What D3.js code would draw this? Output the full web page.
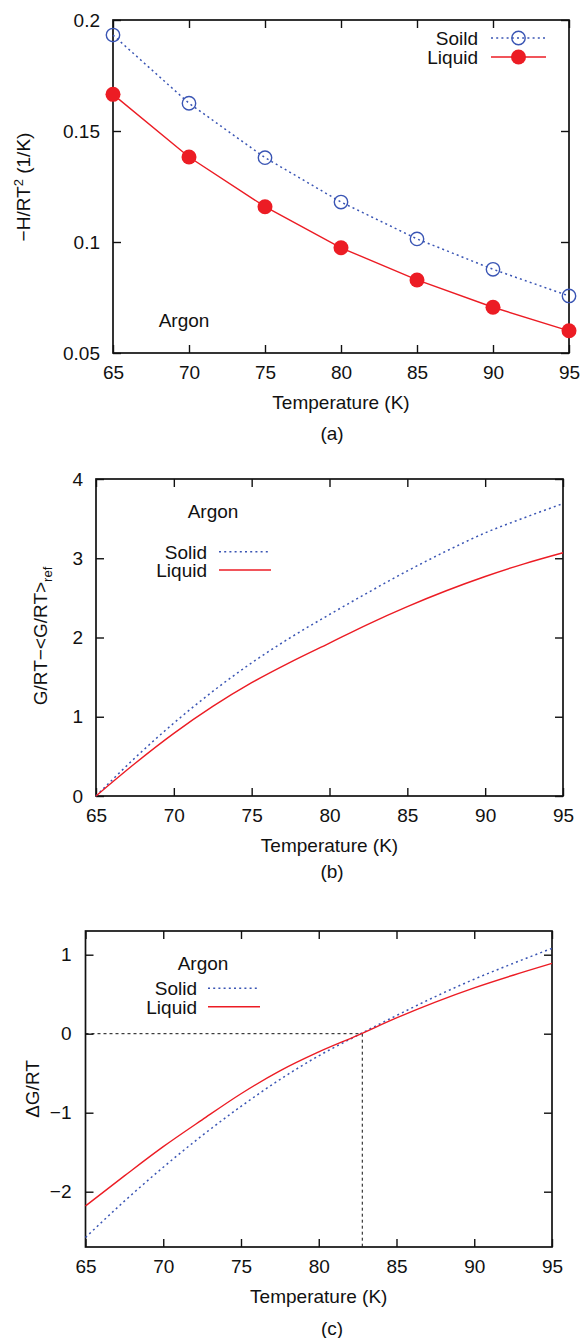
<!DOCTYPE html>
<html>
<head>
<meta charset="utf-8">
<script src="https://cdn.jsdelivr.net/npm/d3@7"></script>
<style>
  html, body { margin: 0; padding: 0; background: #fff; }
  svg text { font-family: "Liberation Sans", Arial, Helvetica, sans-serif; fill: #111; }
</style>
</head>
<body>
<div id="container"></div>
<script>
// ---------- DATA ----------
// (a) enthalpy term at the simulated temperatures
const tempPoints = [65, 70, 75, 80, 85, 90, 95];
const hSolid  = [0.1932, 0.1625, 0.1380, 0.1180, 0.1014, 0.0877, 0.0757];
const hLiquid = [0.1665, 0.1383, 0.1159, 0.0974, 0.0829, 0.0706, 0.0600];

// (b) and (c) curves, read every 2.5 K
const tempCurve = [65, 67.5, 70, 72.5, 75, 77.5, 80, 82.5, 85, 87.5, 90, 92.5, 95];
const gSolid  = [0, 0.48, 0.92, 1.32, 1.68, 2.00, 2.29, 2.57, 2.84, 3.09, 3.32, 3.51, 3.69];
const gLiquid = [0, 0.41, 0.79, 1.13, 1.43, 1.69, 1.93, 2.17, 2.39, 2.59, 2.77, 2.93, 3.07];
const dSolid  = [-2.58, -2.12, -1.69, -1.29, -0.92, -0.58, -0.28, -0.02, 0.23, 0.47, 0.69, 0.89, 1.08];
const dLiquid = [-2.18, -1.80, -1.43, -1.09, -0.76, -0.47, -0.23, -0.02, 0.20, 0.40, 0.58, 0.74, 0.89];
const crossT = 82.8;

const xTicks = [65, 70, 75, 80, 85, 90, 95];
const yTicksA = [0.05, 0.1, 0.15, 0.2];
const yTicksB = [0, 1, 2, 3, 4];
const yTicksC = [-2, -1, 0, 1];

const BLUE = '#3a55b4';
const RED = '#ec1c24';
const DOT = '2,3.2';
const FS = '19px';

// ---------- SVG ----------
const W = 582, H = 1338;
const svg = d3.select('#container').append('svg')
    .attr('width', W)
    .attr('height', H);

function frame({ left, right, top, bottom, yDomain, yTicks, yFmt, pad }) {
    const x = d3.scaleLinear().domain([65, 95]).range([left, right]);
    const y = d3.scaleLinear().domain(yDomain).range([bottom, top]);
    const g = svg.append('g');

    const ax = (sel) => {
        sel.select('.domain').remove();
        sel.selectAll('line').attr('stroke', '#111').attr('stroke-width', 1.4);
        sel.selectAll('text').style('font-size', FS);
    };

    g.append('g').attr('transform', `translate(0,${bottom})`)
        .call(d3.axisBottom(x).tickValues(xTicks).tickSize(-8).tickPadding(pad.x).tickFormat(d3.format('d')))
        .call(ax);
    g.append('g').attr('transform', `translate(0,${top})`)
        .call(d3.axisTop(x).tickValues(xTicks).tickSize(-8).tickFormat(''))
        .call(ax);
    g.append('g').attr('transform', `translate(${left},0)`)
        .call(d3.axisLeft(y).tickValues(yTicks).tickSize(-8).tickPadding(pad.y).tickFormat(yFmt))
        .call(ax);
    g.append('g').attr('transform', `translate(${right},0)`)
        .call(d3.axisRight(y).tickValues(yTicks).tickSize(-8).tickFormat(''))
        .call(ax);

    g.selectAll('g').attr('font-family', null);

    g.append('rect')
        .attr('x', left).attr('y', top)
        .attr('width', right - left).attr('height', bottom - top)
        .attr('fill', 'none').attr('stroke', '#111').attr('stroke-width', 1.7);

    g.append('text')
        .attr('x', (left + right) / 2).attr('y', bottom + 56)
        .attr('text-anchor', 'middle').style('font-size', FS)
        .text('Temperature (K)');
    return { g, x, y };
}

function legendRow(g, xr, y, label, color, dash, x0, x1) {
    g.append('text').attr('x', xr).attr('y', y + 6.8)
        .attr('text-anchor', 'end').style('font-size', FS).text(label);
    g.append('line').attr('x1', x0).attr('x2', x1).attr('y1', y).attr('y2', y)
        .attr('stroke', color).attr('stroke-width', 1.5)
        .attr('stroke-dasharray', dash);
}

function caption(txt, y) {
    svg.append('text').attr('x', 332).attr('y', y + 6.8)
        .attr('text-anchor', 'middle').style('font-size', FS).text(txt);
}

// ---------- PANEL (a) ----------
{
    const { g, x, y } = frame({
        left: 113, right: 569, top: 20, bottom: 353,
        yDomain: [0.05, 0.2], yTicks: yTicksA, yFmt: d => String(d),
        pad: { x: 13, y: 13 }
    });
    const line = d3.line().x(d => x(d[0])).y(d => y(d[1]));
    const solid = tempPoints.map((t, i) => [t, hSolid[i]]);
    const liquid = tempPoints.map((t, i) => [t, hLiquid[i]]);

    g.append('path').attr('d', line(solid)).attr('fill', 'none')
        .attr('stroke', BLUE).attr('stroke-width', 1.5).attr('stroke-dasharray', DOT);
    g.append('path').attr('d', line(liquid)).attr('fill', 'none')
        .attr('stroke', RED).attr('stroke-width', 1.4);

    g.selectAll('.os').data(solid).join('circle')
        .attr('cx', d => x(d[0])).attr('cy', d => y(d[1])).attr('r', 6.7)
        .attr('fill', 'none').attr('stroke', BLUE).attr('stroke-width', 1.4);
    g.selectAll('.fl').data(liquid).join('circle')
        .attr('cx', d => x(d[0])).attr('cy', d => y(d[1])).attr('r', 7.5)
        .attr('fill', RED);

    legendRow(g, 478, 38, 'Soild', BLUE, DOT, 491, 546);
    legendRow(g, 478, 57, 'Liquid', RED, null, 491, 546);
    g.append('circle').attr('cx', 518.5).attr('cy', 38).attr('r', 6.7)
        .attr('fill', 'none').attr('stroke', BLUE).attr('stroke-width', 1.4);
    g.append('circle').attr('cx', 518.5).attr('cy', 57).attr('r', 7.5).attr('fill', RED);

    g.append('text').attr('x', 184).attr('y', 326.7).attr('text-anchor', 'middle')
        .style('font-size', FS).text('Argon');

    const yl = g.append('text').attr('transform', 'translate(30,187) rotate(-90)')
        .attr('text-anchor', 'middle').style('font-size', FS);
    yl.append('tspan').text('−H/RT');
    yl.append('tspan').attr('dy', -7).style('font-size', '13px').text('2');
    yl.append('tspan').attr('dy', 7).text(' (1/K)');

    caption('(a)', 433);
}

// ---------- PANEL (b) ----------
{
    const { g, x, y } = frame({
        left: 96, right: 563, top: 479, bottom: 796,
        yDomain: [0, 4], yTicks: yTicksB, yFmt: d3.format('d'),
        pad: { x: 12.5, y: 13 }
    });
    const line = d3.line().curve(d3.curveMonotoneX).x(d => x(d[0])).y(d => y(d[1]));
    g.append('path').attr('d', line(tempCurve.map((t, i) => [t, gSolid[i]])))
        .attr('fill', 'none').attr('stroke', BLUE).attr('stroke-width', 1.5).attr('stroke-dasharray', DOT);
    g.append('path').attr('d', line(tempCurve.map((t, i) => [t, gLiquid[i]])))
        .attr('fill', 'none').attr('stroke', RED).attr('stroke-width', 1.4);

    g.append('text').attr('x', 213).attr('y', 517.5).attr('text-anchor', 'middle')
        .style('font-size', FS).text('Argon');
    legendRow(g, 207, 551.7, 'Solid', BLUE, DOT, 219, 271);
    legendRow(g, 207, 570, 'Liquid', RED, null, 219, 271);

    const yl = g.append('text').attr('transform', 'translate(47,636) rotate(-90)')
        .attr('text-anchor', 'middle').style('font-size', FS);
    yl.append('tspan').text('G/RT−<G/RT>');
    yl.append('tspan').attr('dy', 5).style('font-size', '13px').text('ref');

    caption('(b)', 871.5);
}

// ---------- PANEL (c) ----------
{
    const { g, x, y } = frame({
        left: 85.5, right: 552, top: 931, bottom: 1247,
        yDomain: [-2.7, 1.3], yTicks: yTicksC, yFmt: d3.format('d'),
        pad: { x: 13, y: 14 }
    });
    // guide lines through the crossing
    g.append('line').attr('x1', x(65)).attr('x2', x(crossT)).attr('y1', y(0)).attr('y2', y(0))
        .attr('stroke', '#111').attr('stroke-width', 1).attr('stroke-dasharray', '3,3');
    g.append('line').attr('x1', x(crossT)).attr('x2', x(crossT)).attr('y1', y(0)).attr('y2', y(-2.7))
        .attr('stroke', '#111').attr('stroke-width', 1).attr('stroke-dasharray', '3,3');

    const line = d3.line().curve(d3.curveMonotoneX).x(d => x(d[0])).y(d => y(d[1]));
    g.append('path').attr('d', line(tempCurve.map((t, i) => [t, dSolid[i]])))
        .attr('fill', 'none').attr('stroke', BLUE).attr('stroke-width', 1.5).attr('stroke-dasharray', DOT);
    g.append('path').attr('d', line(tempCurve.map((t, i) => [t, dLiquid[i]])))
        .attr('fill', 'none').attr('stroke', RED).attr('stroke-width', 1.4);

    g.append('text').attr('x', 203).attr('y', 969.5).attr('text-anchor', 'middle')
        .style('font-size', FS).text('Argon');
    legendRow(g, 197, 988.3, 'Solid', BLUE, DOT, 208, 260);
    legendRow(g, 197, 1006.7, 'Liquid', RED, null, 208, 260);

    g.append('text').attr('transform', 'translate(39,1089) rotate(-90)')
        .attr('text-anchor', 'middle').style('font-size', FS).text('ΔG/RT');

    caption('(c)', 1328);
}
</script>
</body>
</html>
